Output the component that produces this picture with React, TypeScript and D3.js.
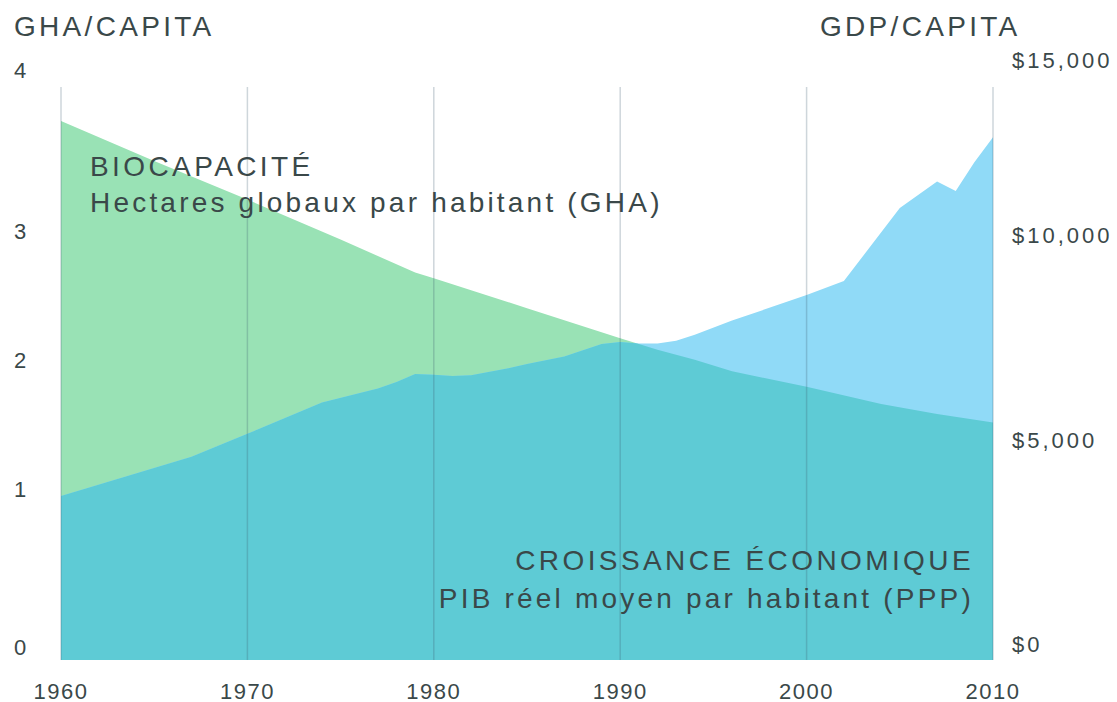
import React from "react";
import * as d3 from "d3";

const bioYears = [1960, 1965, 1970, 1975, 1979, 1980, 1985, 1990, 1992, 1994, 1996, 2000, 2004, 2007, 2010];
const bioValues = [3.77, 3.49, 3.22, 2.94, 2.71, 2.67, 2.46, 2.25, 2.17, 2.1, 2.02, 1.91, 1.79, 1.72, 1.66];

const gdpYears = [1960, 1967, 1970, 1974, 1977, 1978, 1979, 1980, 1981, 1982, 1984, 1985, 1987, 1988, 1989, 1990, 1991, 1992, 1993, 1994, 1996, 2000, 2002, 2005, 2007, 2008, 2009, 2010];
const gdpValues = [4300, 5330, 5930, 6750, 7120, 7290, 7500, 7480, 7450, 7470, 7650, 7760, 7960, 8120, 8290, 8340, 8300, 8300, 8370, 8530, 8900, 9570, 9940, 11850, 12550, 12300, 13050, 13710];

const yearTicks = [1960, 1970, 1980, 1990, 2000, 2010];
const leftTicks = [0, 1, 2, 3, 4];
const rightTicks = [0, 5000, 10000, 15000];
const rightTickLabels = ["$0", "$5,000", "$10,000", "$15,000"];

const W = 1117;
const H = 702;
const FONT = "'Liberation Sans', Arial, Helvetica, sans-serif";
const TEXT = "#3a4849";

export default function App() {
  const x = d3.scaleLinear().domain([1960, 2010]).range([61, 993]);
  const yL = d3.scaleLinear().domain([0, 4]).range([660, 88]);
  const yR = d3.scaleLinear().domain([0, 15000]).range([660, 88]);
  // label placement scales (labels in the original sit irregularly)
  const leftLabelY = d3.scaleLinear().domain(leftTicks).range([655, 497, 368, 239, 78]);
  const rightLabelY = d3.scaleLinear().domain(rightTicks).range([652, 448, 243, 68]);

  const bio = bioYears.map((yr, i) => ({ yr, v: bioValues[i] }));
  const gdp = gdpYears.map((yr, i) => ({ yr, v: gdpValues[i] }));

  const bioArea = d3
    .area<{ yr: number; v: number }>()
    .x((d) => x(d.yr))
    .y0(yL(0))
    .y1((d) => yL(d.v))
    .curve(d3.curveLinear)(bio) as string;
  const gdpArea = d3
    .area<{ yr: number; v: number }>()
    .x((d) => x(d.yr))
    .y0(yR(0))
    .y1((d) => yR(d.v))
    .curve(d3.curveLinear)(gdp) as string;

  return (
    <svg
      width={W}
      height={H}
      style={{ position: "absolute", left: 0, top: 0, display: "block" }}
      fontFamily={FONT}
    >
      <defs>
        <clipPath id="bioClip">
          <path d={bioArea} />
        </clipPath>
      </defs>
      <rect width={W} height={H} fill="#ffffff" />
      <path d={bioArea} fill="#99e2b5" />
      <path d={gdpArea} fill="#90daf7" />
      <path d={gdpArea} fill="#5ecbd5" clipPath="url(#bioClip)" />

      {yearTicks.map((t) => (
        <line
          key={"g" + t}
          x1={x(t)}
          x2={x(t)}
          y1={yL(4) - 1}
          y2={yL(0)}
          stroke="#3a5a70"
          strokeOpacity={0.25}
          strokeWidth={1.5}
        />
      ))}

      {yearTicks.map((t) => (
        <text key={"x" + t} x={x(t)} y={699} textAnchor="middle" fontSize={22} fill={TEXT} letterSpacing={1.5}>
          {t}
        </text>
      ))}

      {leftTicks.map((t) => (
        <text key={"l" + t} x={14} y={leftLabelY(t)} fontSize={22} fill={TEXT}>
          {t}
        </text>
      ))}

      {rightTicks.map((t, i) => (
        <text key={"r" + t} x={1012} y={rightLabelY(t)} fontSize={22} fill={TEXT} letterSpacing={3}>
          {rightTickLabels[i]}
        </text>
      ))}

      <text x={14} y={36} fontSize={28} fill={TEXT} letterSpacing={3.3}>
        GHA/CAPITA
      </text>
      <text x={820} y={36} fontSize={28} fill={TEXT} letterSpacing={3.3}>
        GDP/CAPITA
      </text>

      <text x={90} y={176} fontSize={28} fill={TEXT} letterSpacing={3.4}>
        BIOCAPACITÉ
      </text>
      <text x={90} y={212} fontSize={28} fill={TEXT} letterSpacing={3.2}>
        Hectares globaux par habitant (GHA)
      </text>

      <text x={974} y={570} fontSize={28} fill={TEXT} letterSpacing={3.4} textAnchor="end">
        CROISSANCE ÉCONOMIQUE
      </text>
      <text x={974} y={608} fontSize={28} fill={TEXT} letterSpacing={3.2} textAnchor="end">
        PIB réel moyen par habitant (PPP)
      </text>
    </svg>
  );
}
